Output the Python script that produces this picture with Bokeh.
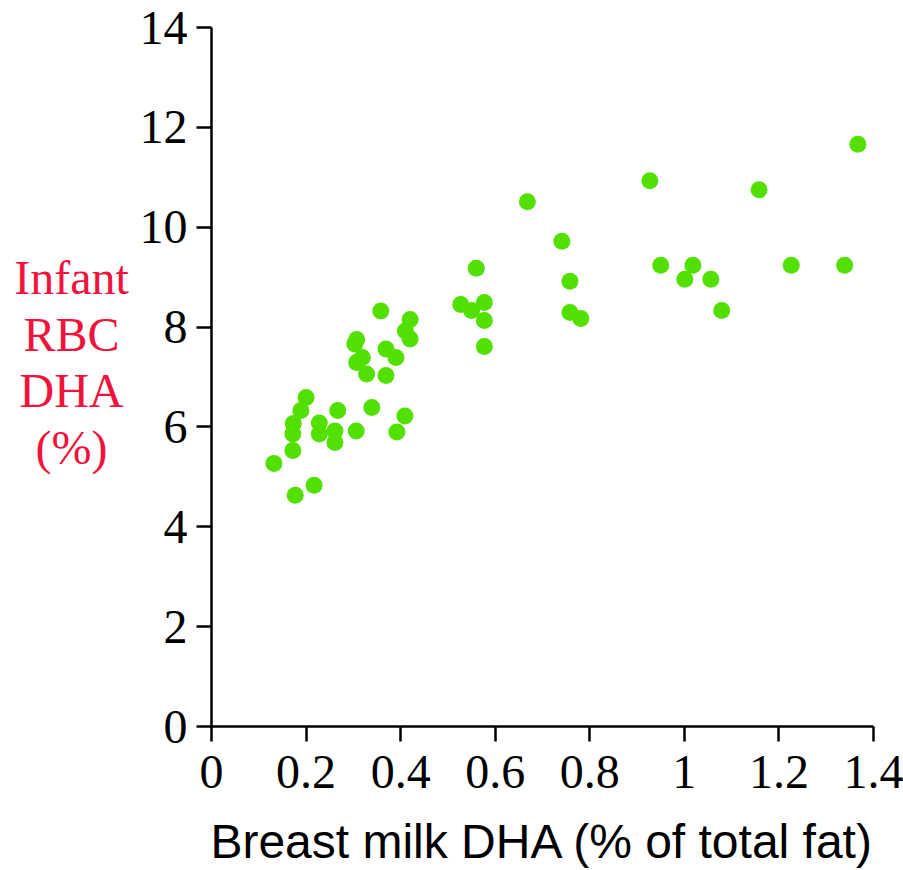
from bokeh.plotting import figure
from bokeh.models import Range1d, FixedTicker, ColumnDataSource
from bokeh.layouts import row
from bokeh.core.properties import value
from bokeh.embed import file_html
from bokeh.resources import INLINE

# Breast milk DHA (% of total fat)
milk_dha = [0.200, 0.189, 0.173, 0.172, 0.172, 0.132, 0.177, 0.217, 0.267, 0.228,
            0.228, 0.261, 0.261, 0.306, 0.339, 0.392, 0.409,
            0.358, 0.420, 0.410, 0.420, 0.307, 0.303, 0.319, 0.307, 0.328,
            0.369, 0.390, 0.369,
            1.367, 0.927, 1.158, 0.668, 0.741, 0.560, 0.950, 1.018, 1.226, 1.339,
            1.001, 1.056, 0.758, 0.527, 0.550, 0.577, 0.577, 0.758, 0.781, 1.079,
            0.577]
# Infant RBC DHA (%)
rbc_dha = [6.59, 6.33, 6.07, 5.86, 5.53, 5.27, 4.63, 4.83, 6.33, 6.08,
           5.86, 5.92, 5.69, 5.92, 6.39, 5.90, 6.22,
           8.32, 8.15, 7.92, 7.76, 7.75, 7.66, 7.39, 7.29, 7.06,
           7.56, 7.39, 7.03,
           11.66, 10.93, 10.75, 10.51, 9.72, 9.18, 9.24, 9.24, 9.24, 9.24,
           8.96, 8.96, 8.92, 8.45, 8.33, 8.49, 8.13, 8.29, 8.17, 8.33,
           7.61]

x_ticks = [0, 0.2, 0.4, 0.6, 0.8, 1.0, 1.2, 1.4]
x_tick_labels = ["0", "0.2", "0.4", "0.6", "0.8", "1", "1.2", "1.4"]
y_ticks = [0, 2, 4, 6, 8, 10, 12, 14]
y_title_lines = ["Infant", "RBC", "DHA", "(%)"]

serif = "Liberation Serif"
TOP, BOTTOM = 27, 143
LEFT_W = 130

y_range = Range1d(0, 14)

# ---- narrow panel holding the multi-line, centred y-axis title ----
t = figure(width=LEFT_W, height=870, output_backend="svg", toolbar_location=None,
           x_range=Range1d(0, LEFT_W), y_range=y_range,
           x_axis_location=None, y_axis_location=None,
           min_border_left=0, min_border_right=0, min_border_top=TOP, min_border_bottom=BOTTOM)
t.outline_line_color = None
t.xgrid.visible = False
t.ygrid.visible = False
t.background_fill_color = "white"
t.border_fill_color = "white"
title_src = ColumnDataSource(dict(x=[71, 71, 71, 71], y=[8.99, 7.85, 6.72, 5.58], text=y_title_lines))
t.text(x="x", y="y", text="text", source=title_src, text_align="center",
       text_baseline="alphabetic", text_font=value(serif), text_font_size="48px",
       text_color="#F0143C")

# ---- main scatter plot ----
p = figure(width=903 - LEFT_W, height=870, output_backend="svg", toolbar_location=None,
           x_range=Range1d(0, 1.4), y_range=y_range,
           min_border_left=211 - LEFT_W, min_border_right=30,
           min_border_top=TOP, min_border_bottom=BOTTOM)
p.outline_line_color = None
p.xgrid.visible = False
p.ygrid.visible = False
p.background_fill_color = "white"
p.border_fill_color = "white"

p.scatter(milk_dha, rbc_dha, size=17, fill_color="#52E000", line_color=None)

for ax in (p.xaxis[0], p.yaxis[0]):
    ax.axis_line_width = 2.5
    ax.axis_line_color = "black"
    ax.major_tick_line_width = 2.5
    ax.major_tick_line_color = "black"
    ax.major_tick_out = 15
    ax.major_tick_in = 0
    ax.minor_tick_line_color = None
    ax.major_label_text_font = serif
    ax.major_label_text_font_size = "48px"
    ax.major_label_text_color = "black"

p.xaxis[0].ticker = FixedTicker(ticks=x_ticks)
p.xaxis[0].major_label_overrides = {tk: lb for tk, lb in zip(x_ticks, x_tick_labels)}
p.xaxis[0].major_label_standoff = 14
p.xaxis[0].axis_label = "Breast milk DHA (% of total fat)"
p.xaxis[0].axis_label_text_font = "Liberation Sans"
p.xaxis[0].axis_label_text_font_style = "normal"
p.xaxis[0].axis_label_text_font_size = "48px"
p.xaxis[0].axis_label_text_color = "black"
p.xaxis[0].axis_label_standoff = 24

p.yaxis[0].ticker = FixedTicker(ticks=y_ticks)
p.yaxis[0].major_label_standoff = 9

layout = row(t, p, spacing=0)
open("out.html", "w").write(file_html(layout, INLINE))
